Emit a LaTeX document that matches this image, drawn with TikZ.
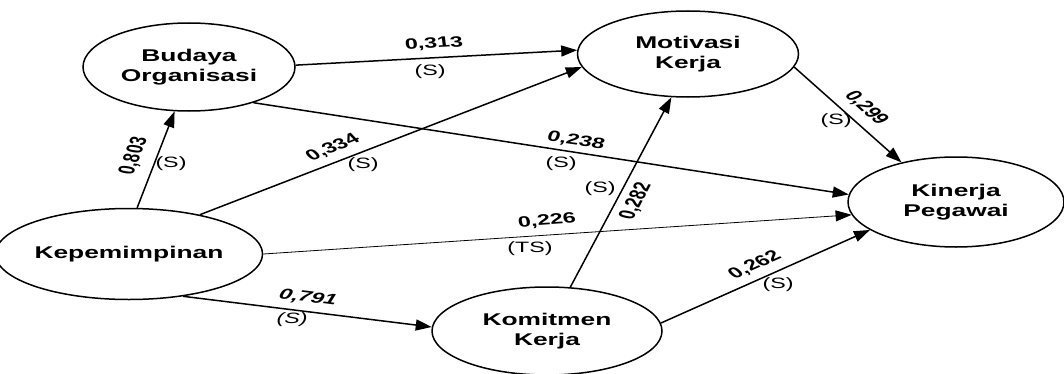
\documentclass[tikz,border=0pt]{standalone}
\usepackage{fontspec}
\setmainfont{Liberation Sans}[FakeStretch=1.55]
\newfontfamily\rawfont{Liberation Sans}
\usepackage{tikz}
\usetikzlibrary{shapes.geometric,arrows.meta}

\tikzset{
  var/.style={draw,ellipse,line width=1.5pt,inner sep=0pt,align=center,
    font=\fontsize{17}{20}\selectfont\bfseries},
  path/.style={line width=1.5pt,-{Triangle[length=16pt,width=11pt]}},
  coef/.style={xscale=1.55,font={\rawfont\fontsize{15}{16}\selectfont\bfseries},inner sep=0pt},
  sig/.style={font=\fontsize{15}{16}\selectfont,inner sep=0pt}
}

\begin{document}
\begin{tikzpicture}[x=1pt,y=1pt]
  \useasboundingbox (0,0) rectangle (1064,373);
  % variables
  \node[var,minimum width=212pt,minimum height=88pt] (bud) at (189,306) {Budaya\\Organisasi};
  \node[var,minimum width=221pt,minimum height=86pt] (mot) at (688,319) {Motivasi\\Kerja};
  \node[var,minimum width=216pt,minimum height=90pt] (kin) at (956,171) {Kinerja\\Pegawai};
  \node[var,minimum width=232pt,minimum height=91pt] (kep) at (129,119) {Kepemimpinan};
  \node[var,minimum width=230pt,minimum height=88pt] (kom) at (547,42) {Komitmen\\Kerja};
  % paths
  \draw[path] (kep.80) -- (bud.252);
  \draw[path] (kep.29) -- (mot.187.5);
  \draw[path] (bud.1) -- (mot.178.4);
  \draw[path] (bud.-29.7) -- (kin.176.3);
  \draw[path,line width=0.8pt] (kep.0) -- (kin.187);
  \draw[path] (kep.-38) -- (kom.178.5);
  \draw[path] (kom.62.9) -- (mot.249);
  \draw[path] (mot.-7.5) -- (kin.144.7);
  \draw[path] (kom.4.5) -- (kin.198.4);
  % coefficients (rotate, then stretched like the rest)
  \node[coef,rotate=75.8] (l803) at (134,217) {0,803};
  \node[sig] (s803) at (171,209) {(S)};
  \node[coef,rotate=32] (l334) at (333,225) {0,334};
  \node[sig] (s334) at (363,208) {(S)};
  \node[coef,rotate=4.6] (l313) at (434,329) {0,313};
  \node[sig] (s313) at (430,301) {(S)};
  \node[coef,rotate=-12.3] (l238) at (576,232) {0,238};
  \node[sig] (s238) at (561,209) {(S)};
  \node[coef,rotate=6.2] (l226) at (547,152) {0,226};
  \node[sig] (s226) at (530,124) {(TS)};
  \node[coef,rotate=-10.8,font={\rawfont\fontsize{15}{16}\selectfont\bfseries\itshape}] (l791) at (308,75) {0,791};
  \node[sig,font=\fontsize{15}{16}\selectfont\itshape] (s791) at (292,53) {(S)};
  \node[coef,rotate=71.1] (l282) at (636,172) {0,282};
  \node[sig] (s282) at (600,184) {(S)};
  \node[coef,rotate=-54.4] (l299) at (866,265) {0,299};
  \node[sig] (s299) at (836,252) {(S)};
  \node[coef,rotate=34.6] (l262) at (755,108) {0,262};
  \node[sig] (s262) at (778,88) {(S)};
\end{tikzpicture}
\end{document}
